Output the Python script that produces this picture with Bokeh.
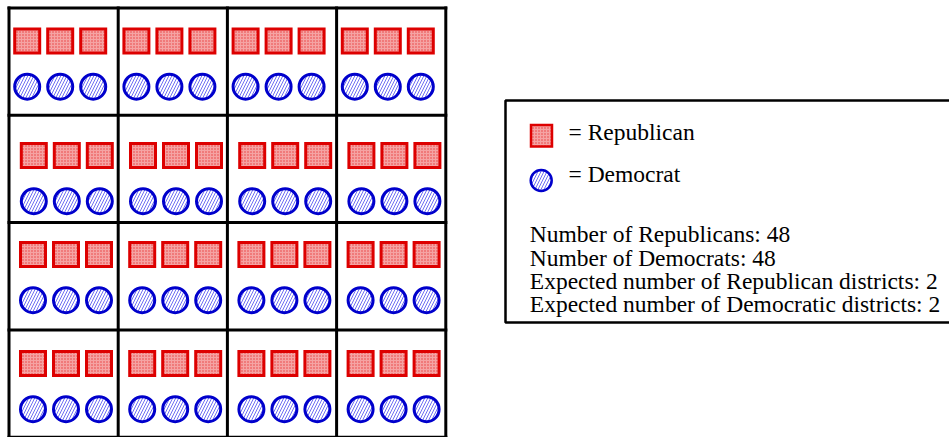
from bokeh.plotting import figure
from bokeh.models import Range1d
from bokeh.embed import file_html
from bokeh.resources import INLINE
from bokeh.core.properties import value

# ---------------- data ----------------
# voters per district (4 x 4 grid of districts)
rep_counts = [[3, 3, 3, 3],
              [3, 3, 3, 3],
              [3, 3, 3, 3],
              [3, 3, 3, 3]]
dem_counts = [[3, 3, 3, 3],
              [3, 3, 3, 3],
              [3, 3, 3, 3],
              [3, 3, 3, 3]]
legend_labels = ["= Republican", "= Democrat"]
summary_labels = ["Number of Republicans",
                  "Number of Democrats",
                  "Expected number of Republican districts",
                  "Expected number of Democratic districts"]
summary_values = [48, 48, 2, 2]

# ---------------- layout ----------------
W, H = 949, 437
X0, Y0 = 8.5, 7.5
CELL_W, CELL_H = 109.2, 107.3
ITEM_BASE, ITEM_STEP = 24.5, 33.0
SQ_OFF, CI_OFF = 33.0, 45.7
ROW_DX = [-6.3, 0.3, -0.5, -0.5]
ROW_DY = [0.0, 7.2, -1.1, 0.6]
FONT = value("Liberation Serif")
FSIZE = "23.5px"
MID = 7.9  # distance from text centre (middle) to alphabetic baseline

RED_LINE, RED_FILL, RED_HATCH = "#dd0000", "#f5a3a3", "#e83a3a"
BLUE_LINE, BLUE_HATCH = "#0000cc", "#4a4af0"

p = figure(width=W, height=H, x_range=Range1d(0, W), y_range=Range1d(H, 0),
           toolbar_location=None, output_backend="svg", min_border=0,
           x_axis_location=None, y_axis_location=None)
p.grid.visible = False
p.outline_line_color = None
p.background_fill_color = "white"

n_rows = len(rep_counts)
n_cols = len(rep_counts[0])

# grid lines
sx0, sy0, sx1, sy1 = [], [], [], []
for i in range(n_rows + 1):
    y = Y0 + i * CELL_H
    sx0.append(X0 - 1.5); sx1.append(X0 + n_cols * CELL_W + 1.5); sy0.append(y); sy1.append(y)
for j in range(n_cols + 1):
    x = X0 + j * CELL_W
    sx0.append(x); sx1.append(x); sy0.append(Y0 - 1.5); sy1.append(Y0 + n_rows * CELL_H + 1.5)
p.segment(sx0, sy0, sx1, sy1, line_color="black", line_width=3)

# voters
rx, ry, bx, by = [], [], [], []
for r in range(n_rows):
    for c in range(n_cols):
        left = X0 + c * CELL_W + ROW_DX[r]
        top = Y0 + r * CELL_H + ROW_DY[r]
        for k in range(rep_counts[r][c]):
            rx.append(left + ITEM_BASE + k * ITEM_STEP)
            ry.append(top + SQ_OFF)
        for k in range(dem_counts[r][c]):
            bx.append(left + ITEM_BASE + k * ITEM_STEP)
            by.append(top + SQ_OFF + CI_OFF)

p.rect(rx, ry, width=25, height=24, fill_color=RED_FILL, line_color=RED_LINE,
       line_width=3, line_join="miter", hatch_pattern="dot", hatch_color=RED_HATCH,
       hatch_scale=3, hatch_weight=1.2)
p.circle(bx, by, radius=12.5, fill_color="white", line_color=BLUE_LINE, line_width=3,
         hatch_pattern="right_diagonal_line", hatch_color=BLUE_HATCH,
         hatch_scale=6, hatch_weight=0.8)

# legend box
p.quad(left=[505], right=[970], top=[100], bottom=[322], fill_color=None,
       line_color="black", line_width=2.5)
p.rect([541], [135.3], width=21, height=21.5, fill_color=RED_FILL, line_color=RED_LINE,
       line_width=2.5, line_join="miter", hatch_pattern="dot", hatch_color=RED_HATCH,
       hatch_scale=3, hatch_weight=1.2)
p.circle([540.7], [180], radius=10.5, fill_color="white", line_color=BLUE_LINE,
         line_width=2.5, hatch_pattern="right_diagonal_line", hatch_color=BLUE_HATCH,
         hatch_scale=6, hatch_weight=0.8)
p.text([568, 568], [139.3 - MID, 181.7 - MID], text=legend_labels, text_font=FONT,
       text_font_size=FSIZE, text_baseline="middle", text_line_height=1.0,
       text_align="left", text_color="black")

lines = [f"{lab}: {v}" for lab, v in zip(summary_labels, summary_values)]
p.text([529.3] * len(lines), [241.7 - MID + 23.3 * i for i in range(len(lines))],
       text=lines, text_font=FONT, text_font_size=FSIZE, text_baseline="middle",
       text_line_height=1.0, text_align="left", text_color="black")

open("out.html", "w").write(file_html(p, INLINE))
